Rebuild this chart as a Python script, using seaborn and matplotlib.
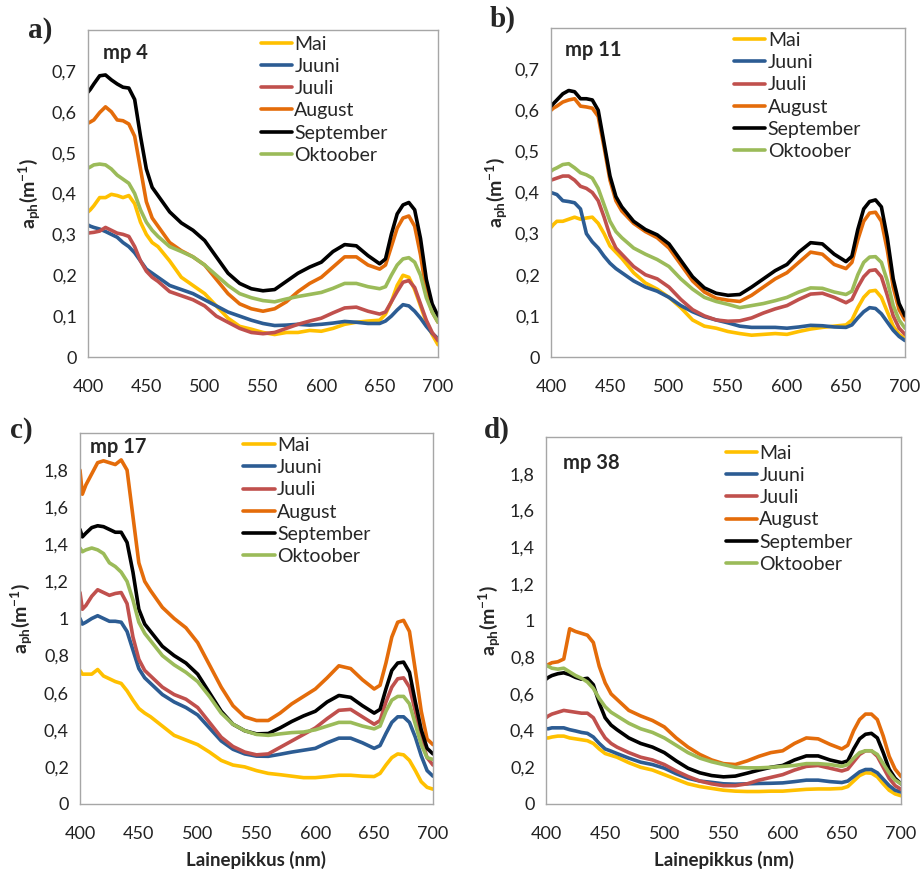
import numpy as np
import pandas as pd
import matplotlib
matplotlib.use("Agg")
import matplotlib.pyplot as plt
from matplotlib.ticker import FuncFormatter
import seaborn as sns

# ---------------- data ----------------
wavelength = [400, 402, 405, 410, 415, 420, 425, 430, 435, 440, 445, 450, 455, 460,
              470, 480, 490, 500, 510, 520, 530, 540, 550, 560, 570, 580, 590, 600,
              610, 620, 630, 640, 650, 655, 660, 665, 670, 675, 680, 685, 690, 695, 700]

months = ["Mai", "Juuni", "Juuli", "August", "September", "Oktoober"]
month_colors = ["#FFC000", "#2C5C93", "#C0504D", "#E46C0A", "#000000", "#9BBB59"]

# panel a: mp 4
a_mai = [0.355, 0.36, 0.37, 0.39, 0.39, 0.398, 0.395, 0.39, 0.395, 0.375, 0.33, 0.30, 0.28, 0.27,
         0.235, 0.195, 0.175, 0.155, 0.125, 0.095, 0.075, 0.068, 0.06, 0.055, 0.06, 0.06, 0.065, 0.063,
         0.07, 0.08, 0.085, 0.088, 0.09, 0.105, 0.135, 0.175, 0.20, 0.195, 0.165, 0.125, 0.085, 0.055, 0.03]
a_juuni = [0.323, 0.32, 0.317, 0.313, 0.307, 0.30, 0.293, 0.28, 0.27, 0.255, 0.235, 0.215, 0.205, 0.195,
           0.175, 0.165, 0.155, 0.14, 0.125, 0.11, 0.10, 0.09, 0.082, 0.077, 0.078, 0.08, 0.078, 0.08,
           0.083, 0.087, 0.085, 0.082, 0.082, 0.088, 0.10, 0.115, 0.128, 0.125, 0.112, 0.095, 0.075, 0.058, 0.045]
a_juuli = [0.303, 0.304, 0.305, 0.308, 0.317, 0.31, 0.303, 0.30, 0.295, 0.27, 0.235, 0.21, 0.195, 0.185,
           0.16, 0.15, 0.14, 0.125, 0.10, 0.085, 0.07, 0.06, 0.057, 0.06, 0.07, 0.08, 0.088, 0.095,
           0.108, 0.12, 0.122, 0.112, 0.105, 0.11, 0.135, 0.16, 0.183, 0.187, 0.17, 0.13, 0.09, 0.06, 0.04]
a_august = [0.572, 0.575, 0.58, 0.598, 0.612, 0.60, 0.58, 0.578, 0.57, 0.54, 0.46, 0.38, 0.34, 0.32,
            0.28, 0.26, 0.245, 0.225, 0.19, 0.155, 0.13, 0.118, 0.112, 0.118, 0.135, 0.16, 0.18, 0.195,
            0.22, 0.245, 0.245, 0.225, 0.215, 0.225, 0.27, 0.315, 0.34, 0.345, 0.32, 0.25, 0.16, 0.11, 0.085]
a_september = [0.648, 0.655, 0.668, 0.688, 0.69, 0.678, 0.668, 0.66, 0.658, 0.63, 0.54, 0.46, 0.415, 0.395,
               0.355, 0.328, 0.31, 0.285, 0.245, 0.205, 0.18, 0.167, 0.162, 0.165, 0.185, 0.205, 0.22, 0.232,
               0.258, 0.275, 0.272, 0.248, 0.228, 0.24, 0.30, 0.35, 0.372, 0.378, 0.36, 0.29, 0.19, 0.13, 0.10]
a_oktoober = [0.462, 0.465, 0.47, 0.472, 0.47, 0.46, 0.445, 0.435, 0.425, 0.40, 0.36, 0.33, 0.31, 0.295,
              0.27, 0.258, 0.245, 0.225, 0.20, 0.175, 0.155, 0.145, 0.138, 0.135, 0.142, 0.148, 0.153, 0.158,
              0.168, 0.18, 0.18, 0.172, 0.167, 0.172, 0.20, 0.225, 0.24, 0.243, 0.232, 0.20, 0.145, 0.11, 0.085]

# panel b: mp 11
b_mai = [0.315, 0.322, 0.33, 0.33, 0.335, 0.34, 0.335, 0.338, 0.34, 0.325, 0.30, 0.27, 0.255, 0.24,
         0.205, 0.18, 0.165, 0.145, 0.12, 0.09, 0.075, 0.07, 0.062, 0.057, 0.053, 0.055, 0.057, 0.055,
         0.062, 0.068, 0.072, 0.075, 0.078, 0.09, 0.12, 0.145, 0.16, 0.162, 0.145, 0.11, 0.075, 0.055, 0.045]
b_juuni = [0.40, 0.398, 0.395, 0.38, 0.378, 0.375, 0.36, 0.30, 0.28, 0.265, 0.245, 0.228, 0.215, 0.205,
           0.185, 0.17, 0.16, 0.145, 0.125, 0.11, 0.098, 0.09, 0.083, 0.075, 0.072, 0.072, 0.072, 0.07,
           0.073, 0.077, 0.076, 0.073, 0.072, 0.078, 0.095, 0.11, 0.12, 0.118, 0.105, 0.085, 0.065, 0.05, 0.04]
b_juuli = [0.43, 0.432, 0.435, 0.44, 0.44, 0.43, 0.415, 0.41, 0.40, 0.38, 0.34, 0.295, 0.265, 0.25,
           0.22, 0.20, 0.19, 0.17, 0.14, 0.115, 0.10, 0.09, 0.087, 0.088, 0.095, 0.107, 0.117, 0.125,
           0.14, 0.153, 0.155, 0.145, 0.132, 0.14, 0.17, 0.195, 0.21, 0.212, 0.195, 0.15, 0.10, 0.07, 0.055]
b_august = [0.60, 0.605, 0.61, 0.62, 0.625, 0.628, 0.61, 0.608, 0.605, 0.585, 0.51, 0.43, 0.38, 0.355,
            0.325, 0.305, 0.29, 0.265, 0.225, 0.185, 0.158, 0.143, 0.138, 0.135, 0.15, 0.17, 0.19, 0.205,
            0.23, 0.255, 0.25, 0.225, 0.215, 0.23, 0.285, 0.33, 0.35, 0.352, 0.33, 0.26, 0.17, 0.115, 0.09]
b_september = [0.61, 0.616, 0.625, 0.64, 0.648, 0.645, 0.628, 0.628, 0.625, 0.60, 0.52, 0.44, 0.39, 0.365,
               0.33, 0.31, 0.297, 0.275, 0.235, 0.195, 0.168, 0.155, 0.15, 0.152, 0.17, 0.19, 0.21, 0.225,
               0.255, 0.278, 0.275, 0.25, 0.232, 0.245, 0.31, 0.36, 0.378, 0.382, 0.365, 0.29, 0.19, 0.13, 0.10]
b_oktoober = [0.452, 0.456, 0.46, 0.468, 0.47, 0.46, 0.448, 0.443, 0.435, 0.41, 0.37, 0.33, 0.305, 0.29,
              0.265, 0.25, 0.237, 0.22, 0.19, 0.165, 0.145, 0.135, 0.128, 0.12, 0.125, 0.13, 0.137, 0.145,
              0.158, 0.168, 0.167, 0.158, 0.152, 0.16, 0.20, 0.23, 0.243, 0.244, 0.23, 0.185, 0.125, 0.09, 0.07]

# panel c: mp 17
c_mai = [0.72, 0.70, 0.70, 0.70, 0.725, 0.69, 0.675, 0.66, 0.65, 0.61, 0.56, 0.515, 0.49, 0.47,
         0.42, 0.37, 0.345, 0.32, 0.28, 0.235, 0.21, 0.20, 0.18, 0.165, 0.158, 0.15, 0.142, 0.142,
         0.148, 0.155, 0.155, 0.15, 0.148, 0.165, 0.21, 0.25, 0.27, 0.265, 0.235, 0.18, 0.12, 0.09, 0.08]
c_juuni = [1.00, 0.97, 0.98, 1.00, 1.015, 1.00, 0.985, 0.985, 0.98, 0.93, 0.83, 0.73, 0.68, 0.65,
           0.59, 0.55, 0.52, 0.48, 0.41, 0.34, 0.295, 0.27, 0.258, 0.257, 0.268, 0.28, 0.29, 0.30,
           0.33, 0.355, 0.355, 0.33, 0.30, 0.315, 0.38, 0.44, 0.47, 0.47, 0.44, 0.36, 0.26, 0.18, 0.15]
c_juuli = [1.14, 1.05, 1.07, 1.12, 1.155, 1.14, 1.125, 1.135, 1.14, 1.08, 0.90, 0.78, 0.72, 0.69,
           0.63, 0.59, 0.565, 0.52, 0.44, 0.36, 0.31, 0.28, 0.265, 0.27, 0.305, 0.34, 0.375, 0.41,
           0.46, 0.505, 0.51, 0.47, 0.43, 0.45, 0.55, 0.63, 0.675, 0.68, 0.63, 0.50, 0.35, 0.25, 0.21]
c_august = [1.80, 1.67, 1.72, 1.78, 1.84, 1.85, 1.84, 1.83, 1.855, 1.80, 1.55, 1.30, 1.20, 1.15,
            1.06, 1.00, 0.95, 0.87, 0.75, 0.63, 0.53, 0.47, 0.45, 0.45, 0.49, 0.54, 0.58, 0.62,
            0.68, 0.745, 0.73, 0.67, 0.62, 0.64, 0.76, 0.90, 0.98, 0.99, 0.93, 0.72, 0.50, 0.35, 0.32]
c_september = [1.48, 1.44, 1.46, 1.49, 1.50, 1.495, 1.48, 1.465, 1.465, 1.41, 1.25, 1.05, 0.97, 0.93,
               0.85, 0.80, 0.76, 0.70, 0.60, 0.50, 0.43, 0.395, 0.378, 0.38, 0.41, 0.445, 0.475, 0.50,
               0.55, 0.585, 0.575, 0.53, 0.49, 0.51, 0.62, 0.72, 0.76, 0.765, 0.71, 0.55, 0.40, 0.30, 0.27]
c_oktoober = [1.38, 1.36, 1.37, 1.38, 1.37, 1.35, 1.30, 1.28, 1.25, 1.20, 1.10, 0.98, 0.92, 0.88,
              0.80, 0.75, 0.71, 0.66, 0.58, 0.49, 0.43, 0.395, 0.375, 0.37, 0.378, 0.385, 0.388, 0.40,
              0.42, 0.44, 0.44, 0.42, 0.405, 0.42, 0.50, 0.56, 0.58, 0.58, 0.54, 0.43, 0.32, 0.25, 0.24]

# panel d: mp 38
d_mai = [0.36, 0.36, 0.365, 0.37, 0.37, 0.36, 0.355, 0.35, 0.345, 0.33, 0.30, 0.275, 0.265, 0.255,
         0.225, 0.20, 0.185, 0.16, 0.135, 0.11, 0.095, 0.085, 0.075, 0.07, 0.068, 0.068, 0.07, 0.07,
         0.075, 0.08, 0.082, 0.082, 0.085, 0.095, 0.125, 0.155, 0.17, 0.168, 0.148, 0.11, 0.075, 0.055, 0.045]
d_juuni = [0.41, 0.41, 0.415, 0.415, 0.415, 0.405, 0.398, 0.39, 0.385, 0.365, 0.33, 0.30, 0.288, 0.275,
           0.25, 0.228, 0.215, 0.195, 0.165, 0.14, 0.125, 0.118, 0.11, 0.108, 0.11, 0.112, 0.113, 0.115,
           0.122, 0.13, 0.13, 0.122, 0.117, 0.125, 0.15, 0.175, 0.188, 0.188, 0.17, 0.135, 0.10, 0.075, 0.065]
d_juuli = [0.47, 0.48, 0.49, 0.50, 0.51, 0.505, 0.50, 0.495, 0.495, 0.47, 0.41, 0.36, 0.33, 0.31,
           0.28, 0.255, 0.24, 0.215, 0.18, 0.15, 0.125, 0.11, 0.10, 0.10, 0.11, 0.13, 0.145, 0.16,
           0.185, 0.205, 0.21, 0.195, 0.18, 0.19, 0.23, 0.27, 0.29, 0.29, 0.26, 0.20, 0.14, 0.10, 0.08]
d_august = [0.75, 0.76, 0.77, 0.775, 0.79, 0.955, 0.94, 0.93, 0.92, 0.88, 0.75, 0.66, 0.60, 0.57,
            0.51, 0.48, 0.455, 0.42, 0.36, 0.31, 0.27, 0.24, 0.22, 0.215, 0.235, 0.26, 0.28, 0.29,
            0.33, 0.36, 0.355, 0.325, 0.30, 0.32, 0.40, 0.46, 0.49, 0.49, 0.46, 0.37, 0.26, 0.19, 0.15]
d_september = [0.68, 0.69, 0.70, 0.71, 0.715, 0.705, 0.69, 0.68, 0.685, 0.65, 0.55, 0.47, 0.43, 0.405,
               0.36, 0.33, 0.31, 0.28, 0.235, 0.195, 0.17, 0.155, 0.148, 0.152, 0.168, 0.185, 0.20, 0.21,
               0.24, 0.262, 0.262, 0.24, 0.225, 0.235, 0.30, 0.355, 0.38, 0.385, 0.36, 0.28, 0.19, 0.14, 0.11]
d_oktoober = [0.755, 0.75, 0.74, 0.735, 0.74, 0.72, 0.70, 0.685, 0.665, 0.63, 0.575, 0.53, 0.50, 0.48,
              0.44, 0.41, 0.39, 0.36, 0.32, 0.28, 0.25, 0.23, 0.215, 0.20, 0.197, 0.197, 0.20, 0.205,
              0.21, 0.22, 0.22, 0.215, 0.205, 0.215, 0.25, 0.28, 0.29, 0.29, 0.27, 0.22, 0.17, 0.13, 0.11]

panel_letters = ["a)", "b)", "c)", "d)"]
panel_titles = ["mp 4", "mp 11", "mp 17", "mp 38"]
x_ticks = [400, 450, 500, 550, 600, 650, 700]
y_ticks_small = [0, 0.1, 0.2, 0.3, 0.4, 0.5, 0.6, 0.7]
y_ticks_large = [0, 0.2, 0.4, 0.6, 0.8, 1.0, 1.2, 1.4, 1.6, 1.8]
y_label = r"$\mathbf{a_{ph}}$$\mathbf{(m^{-1})}$"
x_label = "Lainepikkus (nm)"

panels = [
    [a_mai, a_juuni, a_juuli, a_august, a_september, a_oktoober],
    [b_mai, b_juuni, b_juuli, b_august, b_september, b_oktoober],
    [c_mai, c_juuni, c_juuli, c_august, c_september, c_oktoober],
    [d_mai, d_juuni, d_juuli, d_august, d_september, d_oktoober],
]

# ---------------- style ----------------
sns.set_theme(style="white")
plt.rcParams["font.family"] = ["Lato", "DejaVu Sans"]
plt.rcParams["mathtext.fontset"] = "custom"
plt.rcParams["mathtext.bf"] = "Lato:bold"
plt.rcParams["mathtext.rm"] = "Lato"
plt.rcParams["mathtext.it"] = "Lato:italic"

fig = plt.figure(figsize=(9.21, 8.73), dpi=100)
W, H = 921, 873

# axes boxes in pixels: left, right, top, bottom
boxes = [(88, 438, 30, 357), (551, 905, 28, 357), (80, 433, 433, 804), (546, 901, 437, 804)]
ylims = [0.8, 0.8, 2.0, 2.0]
legend_anchor = [(0.483, 0.995), (0.507, 1.0), (0.452, 1.0), (0.496, 0.99)]
title_pos = [(0.043, 0.93), (0.04, 0.933), (0.028, 0.962), (0.048, 0.929)]
letter_pos = [(28, 31), (490, 19), (10, 431), (484, 430)]
ylabel_x = [30, 497, 22, 490]

palette = dict(zip(months, month_colors))
frame_color = "#A6A6A6"

for i, series in enumerate(panels):
    l, r, t, b = boxes[i]
    ax = fig.add_axes([l / W, 1 - b / H, (r - l) / W, (b - t) / H])
    rows = []
    for m, vals in zip(months, series):
        for w, v in zip(wavelength, vals):
            rows.append({"wl": w, "val": v, "month": m})
    df = pd.DataFrame(rows)
    sns.lineplot(data=df, x="wl", y="val", hue="month", hue_order=months,
                 palette=palette, linewidth=2.6, ax=ax, legend=False,
                 estimator=None, sort=False)
    ax.set_xlim(400, 700)
    ax.set_ylim(0, ylims[i])
    ax.set_xticks(x_ticks)
    ax.set_yticks(y_ticks_small if ylims[i] < 1 else y_ticks_large)
    ax.yaxis.set_major_formatter(FuncFormatter(lambda v, p: ("%g" % round(v, 1)).replace(".", ",")))
    ax.tick_params(axis="both", which="major", direction="out", length=4, width=1,
                   color=frame_color, labelsize=13, labelcolor="#222222", pad=4)
    ax.tick_params(axis="x", pad=12)
    for s in ax.spines.values():
        s.set_color(frame_color)
        s.set_linewidth(1.0)
    ax.set_xlabel(x_label if i >= 2 else "", fontsize=13.5, fontweight="bold", labelpad=6)
    ax.set_ylabel("")
    # y label
    ycen = 1 - ((t + b) / 2) / H
    fig.text(ylabel_x[i] / W, ycen, y_label, rotation=90, ha="center", va="center", fontsize=14)
    # legend
    handles = ax.get_lines()[:len(months)]
    ax.legend(handles, months, loc="upper left", bbox_to_anchor=legend_anchor[i],
              frameon=False, fontsize=14, handlelength=1.6, handletextpad=0.12,
              labelspacing=0.27, borderpad=0.2, borderaxespad=0)
    ax.text(title_pos[i][0], title_pos[i][1], panel_titles[i], transform=ax.transAxes,
            fontsize=14.5, fontweight="bold", ha="left", va="center")
    fig.text(letter_pos[i][0] / W, 1 - letter_pos[i][1] / H, panel_letters[i],
             fontsize=21, fontweight="bold", family="Liberation Serif", ha="left", va="center")

fig.savefig("out.png", dpi=100)
